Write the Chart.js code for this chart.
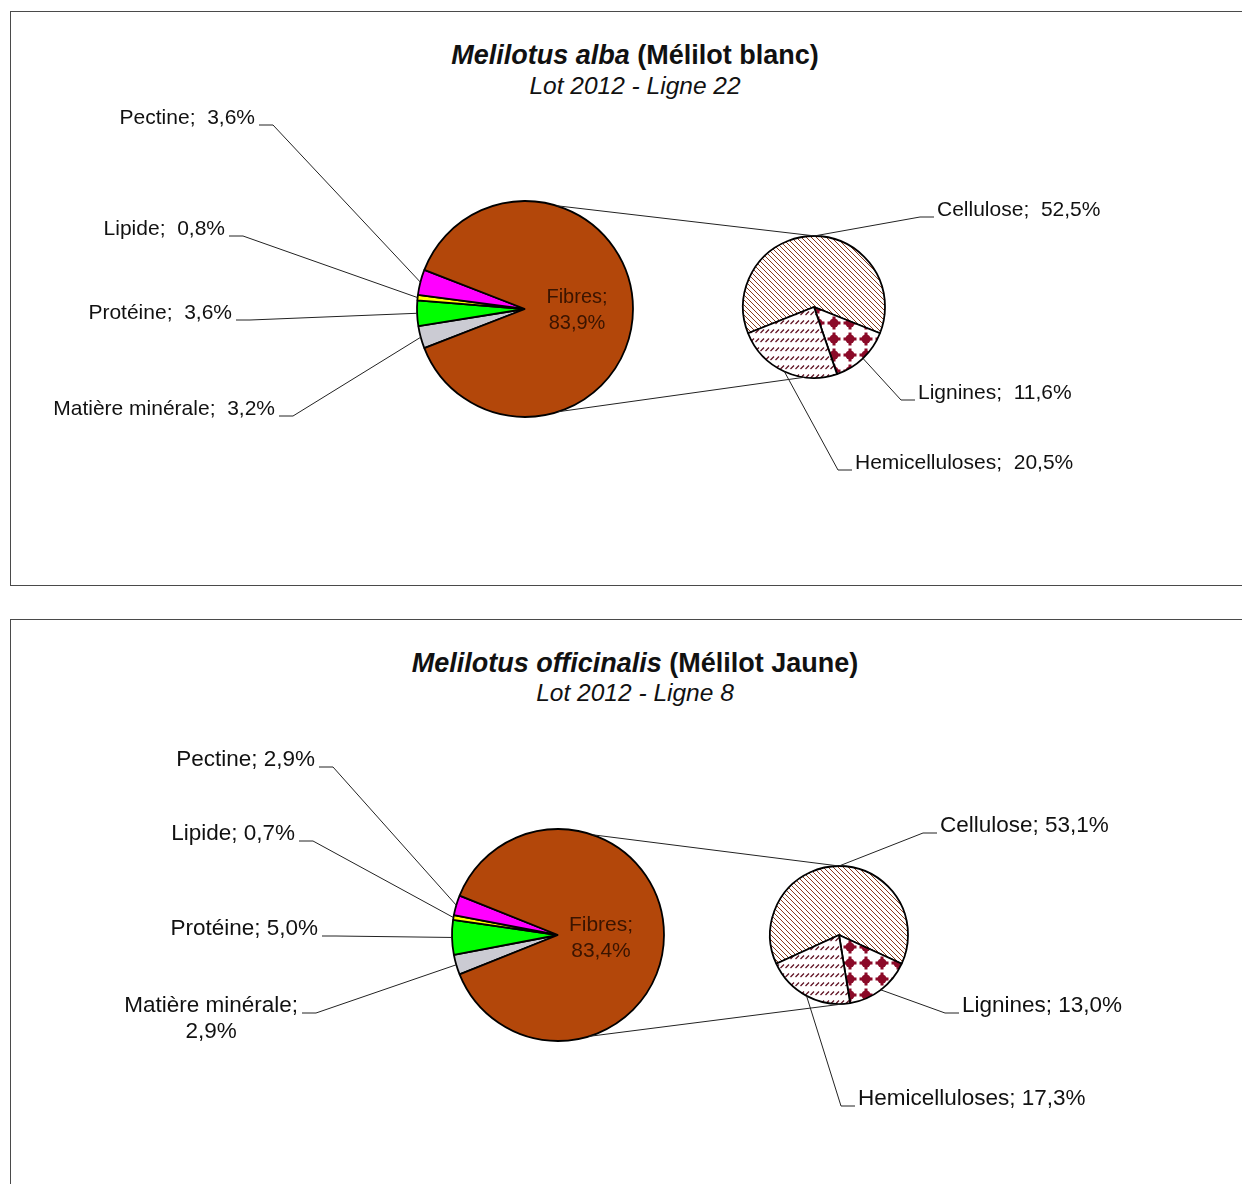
<!DOCTYPE html>
<html>
<head>
<meta charset="utf-8">
<script src="https://cdn.jsdelivr.net/npm/chart.js@4.4.1/dist/chart.umd.min.js"></script>
<style>
  html, body { margin: 0; padding: 0; background: #fff; }
  body { width: 1242px; height: 1184px; position: relative; overflow: hidden; font-family: "Liberation Sans", Arial, sans-serif; }
  .panel { position: absolute; left: 10px; width: 1300px; border: 1.5px solid #4a4a4a; box-sizing: border-box; background: #fff; }
  canvas { position: absolute; left: 10px; }
  .title { position: absolute; left: 10px; width: 1250px; text-align: center; color: #111; white-space: nowrap; }
  .t1 { font-size: 27px; font-weight: bold; line-height: 30px; }
  .t2 { font-size: 24.5px; font-style: italic; line-height: 28px; }
</style>
</head>
<body>
<script>
// values (percent of dry matter)
const mainLabels = ["Matière minérale", "Protéine", "Lipide", "Pectine", "Fibres"];
const albaMain = [3.2, 3.6, 0.8, 3.6, 83.9];
const officinalisMain = [2.9, 5.0, 0.7, 2.9, 83.4];

const fibreLabels = ["Cellulose", "Lignines", "Hemicelluloses"];
const albaFibres = [52.5, 11.6, 20.5];
const officinalisFibres = [53.1, 13.0, 17.3];

const species = ["Melilotus alba", "Melilotus officinalis"];
const commonNames = ["(Mélilot blanc)", "(Mélilot Jaune)"];
const lots = ["Lot 2012 - Ligne 22", "Lot 2012 - Ligne 8"];

const mainColors = ["#cbcbd3", "#00ff00", "#ffff00", "#ff00ff", "#b3470a"];

// layout of each panel (page pixels)
const panels = [
  {
    top: 11, height: 575, titleY: 40, subY: 72,
    main: albaMain, fibres: albaFibres,
    mainPie: { x: 525, y: 309, r: 108 },
    secPie: { x: 814, y: 307, r: 71 },
    links: [[-73, -89], [72, 98]],
    font: 21, sep: ";  ", insideFont: 20,
    mainText: [
      { x: 275, y: 409 }, { x: 232, y: 313 }, { x: 225, y: 229 }, { x: 255, y: 118 },
      { x: 577, y: 297, inside: true }
    ],
    fibreText: [{ x: 937, y: 210 }, { x: 918, y: 393 }, { x: 855, y: 463 }]
  },
  {
    top: 619, height: 600, titleY: 648, subY: 679,
    main: officinalisMain, fibres: officinalisFibres,
    mainPie: { x: 558, y: 935, r: 106 },
    secPie: { x: 839, y: 935, r: 69 },
    links: [[-71, -90], [73, 86]],
    font: 22.5, sep: "; ", insideFont: 21,
    mainText: [
      { x: 298, y: 1006, wrap: true }, { x: 318, y: 929 }, { x: 295, y: 834 }, { x: 315, y: 760 },
      { x: 601, y: 925, inside: true }
    ],
    fibreText: [{ x: 940, y: 826 }, { x: 962, y: 1006 }, { x: 858, y: 1099 }]
  }
];

const BW = 1.8;
const W = 1232;

function pct(v) { return v.toFixed(1).replace('.', ',') + '%'; }

function tile(w, h, draw) {
  const c = document.createElement('canvas');
  c.width = w; c.height = h;
  const g = c.getContext('2d');
  g.fillStyle = '#fff';
  g.fillRect(0, 0, w, h);
  draw(g);
  return g.createPattern(c, 'repeat');
}

const cellulosePat = tile(5, 5, g => {
  g.strokeStyle = '#8a3a1c';
  g.lineWidth = 1;
  g.beginPath();
  g.moveTo(-1, -1); g.lineTo(6, 6);
  g.moveTo(-1, 4); g.lineTo(1, 6);
  g.moveTo(4, -1); g.lineTo(6, 1);
  g.stroke();
});
const ligninePat = tile(16, 16, g => {
  g.fillStyle = '#8b0a28';
  g.beginPath(); g.arc(8, 8, 4.6, 0, Math.PI * 2); g.fill();
  g.fillRect(1.5, 6.5, 13, 3);
  g.fillRect(6.5, 1.5, 3, 13);
});
const hemiPat = tile(5, 9, g => {
  g.strokeStyle = '#5e1020';
  g.lineWidth = 1.2;
  g.beginPath(); g.moveTo(0.5, 7); g.lineTo(4, 3.5); g.stroke();
});
const fibreColors = [cellulosePat, ligninePat, hemiPat];

function padFor(p, pie) {
  const side = 2 * pie.r + BW;
  const left = pie.x - 10 - pie.r - BW / 2;
  const top = pie.y - p.top - pie.r - BW / 2;
  return { left, top, right: W - left - side, bottom: p.height - top - side };
}

function arcPoint(arc, angle) {
  return [arc.x + Math.cos(angle) * arc.outerRadius, arc.y + Math.sin(angle) * arc.outerRadius];
}

function drawLabels(chart, names, values, specs, p, side) {
  const ctx = chart.ctx;
  const arcs = chart.getDatasetMeta(0).data;
  ctx.save();
  ctx.textBaseline = 'middle';
  ctx.lineWidth = 1;
  ctx.strokeStyle = '#222';
  specs.forEach((s, i) => {
    const x = s.x - 10, y = s.y - p.top;
    const arc = arcs[i];
    const mid = (arc.startAngle + arc.endAngle) / 2;
    if (s.inside) {
      ctx.font = p.insideFont + 'px "Liberation Sans", Arial, sans-serif';
      ctx.fillStyle = '#3a1400';
      ctx.textAlign = 'center';
      ctx.fillText(names[i] + ';', x, y);
      ctx.fillText(pct(values[i]), x, y + 26);
      return;
    }
    ctx.font = p.font + 'px "Liberation Sans", Arial, sans-serif';
    ctx.fillStyle = '#111';
    let x0, x1;
    if (side === 'left') {
      ctx.textAlign = 'right';
      if (s.wrap) {
        const l1 = names[i] + ';';
        ctx.fillText(l1, x, y);
        ctx.textAlign = 'center';
        ctx.fillText(pct(values[i]), x - ctx.measureText(l1).width / 2, y + 26);
      } else {
        ctx.fillText(names[i] + p.sep + pct(values[i]), x, y);
      }
      x0 = x + 4; x1 = x + 18;
    } else {
      ctx.textAlign = 'left';
      ctx.fillText(names[i] + p.sep + pct(values[i]), x, y);
      x0 = x - 3; x1 = x - 17;
    }
    const [ex, ey] = arcPoint(arc, mid);
    ctx.beginPath();
    ctx.moveTo(x0, y + 7);
    ctx.lineTo(x1, y + 7);
    ctx.lineTo(ex, ey);
    ctx.stroke();
  });
  ctx.restore();
}

function addCanvas(p) {
  const c = document.createElement('canvas');
  c.width = W; c.height = p.height;
  c.style.top = p.top + 'px';
  document.body.appendChild(c);
  return c;
}

panels.forEach((p, k) => {
  const frame = document.createElement('div');
  frame.className = 'panel';
  frame.style.top = p.top + 'px';
  frame.style.height = p.height + 'px';
  document.body.appendChild(frame);

  const t1 = document.createElement('div');
  t1.className = 'title t1';
  t1.style.top = p.titleY + 'px';
  const em = document.createElement('i');
  em.textContent = species[k];
  t1.appendChild(em);
  t1.appendChild(document.createTextNode(' ' + commonNames[k]));
  document.body.appendChild(t1);

  const t2 = document.createElement('div');
  t2.className = 'title t2';
  t2.style.top = p.subY + 'px';
  t2.textContent = lots[k];
  document.body.appendChild(t2);

  const smallSum = p.main.slice(0, 4).reduce((a, b) => a + b, 0);
  const mainTotal = p.main.reduce((a, b) => a + b, 0);
  const fibreTotal = p.fibres.reduce((a, b) => a + b, 0);

  const mainChart = new Chart(addCanvas(p), {
    type: 'pie',
    data: {
      labels: mainLabels,
      datasets: [{
        data: p.main,
        backgroundColor: mainColors,
        borderColor: '#000',
        borderWidth: BW,
        hoverBorderWidth: BW,
        hoverOffset: 0,
        offset: 0
      }]
    },
    options: {
      responsive: false,
      animation: false,
      events: [],
      rotation: 270 - (smallSum / mainTotal) * 180,
      layout: { padding: padFor(p, p.mainPie) },
      plugins: { legend: { display: false }, tooltip: { enabled: false } }
    },
    plugins: [{
      id: 'mainLabels',
      afterDraw: chart => drawLabels(chart, mainLabels, p.main, p.mainText, p, 'left')
    }]
  });

  new Chart(addCanvas(p), {
    type: 'pie',
    data: {
      labels: fibreLabels,
      datasets: [{
        data: p.fibres,
        backgroundColor: fibreColors,
        borderColor: '#000',
        borderWidth: BW,
        hoverBorderWidth: BW,
        hoverOffset: 0,
        offset: 0
      }]
    },
    options: {
      responsive: false,
      animation: false,
      events: [],
      rotation: -(p.fibres[0] / fibreTotal) * 180,
      layout: { padding: padFor(p, p.secPie) },
      plugins: { legend: { display: false }, tooltip: { enabled: false } }
    },
    plugins: [{
      id: 'fibreLabels',
      afterDraw: chart => {
        const ctx = chart.ctx;
        const m = mainChart.getDatasetMeta(0).data[0];
        const s = chart.getDatasetMeta(0).data[0];
        ctx.save();
        ctx.strokeStyle = '#222';
        ctx.lineWidth = 1;
        p.links.forEach(([a1, a2]) => {
          const [x1, y1] = arcPoint(m, a1 * Math.PI / 180);
          const [x2, y2] = arcPoint(s, a2 * Math.PI / 180);
          ctx.beginPath();
          ctx.moveTo(x1, y1);
          ctx.lineTo(x2, y2);
          ctx.stroke();
        });
        ctx.restore();
        drawLabels(chart, fibreLabels, p.fibres, p.fibreText, p, 'right');
      }
    }]
  });
});
</script>
</body>
</html>
